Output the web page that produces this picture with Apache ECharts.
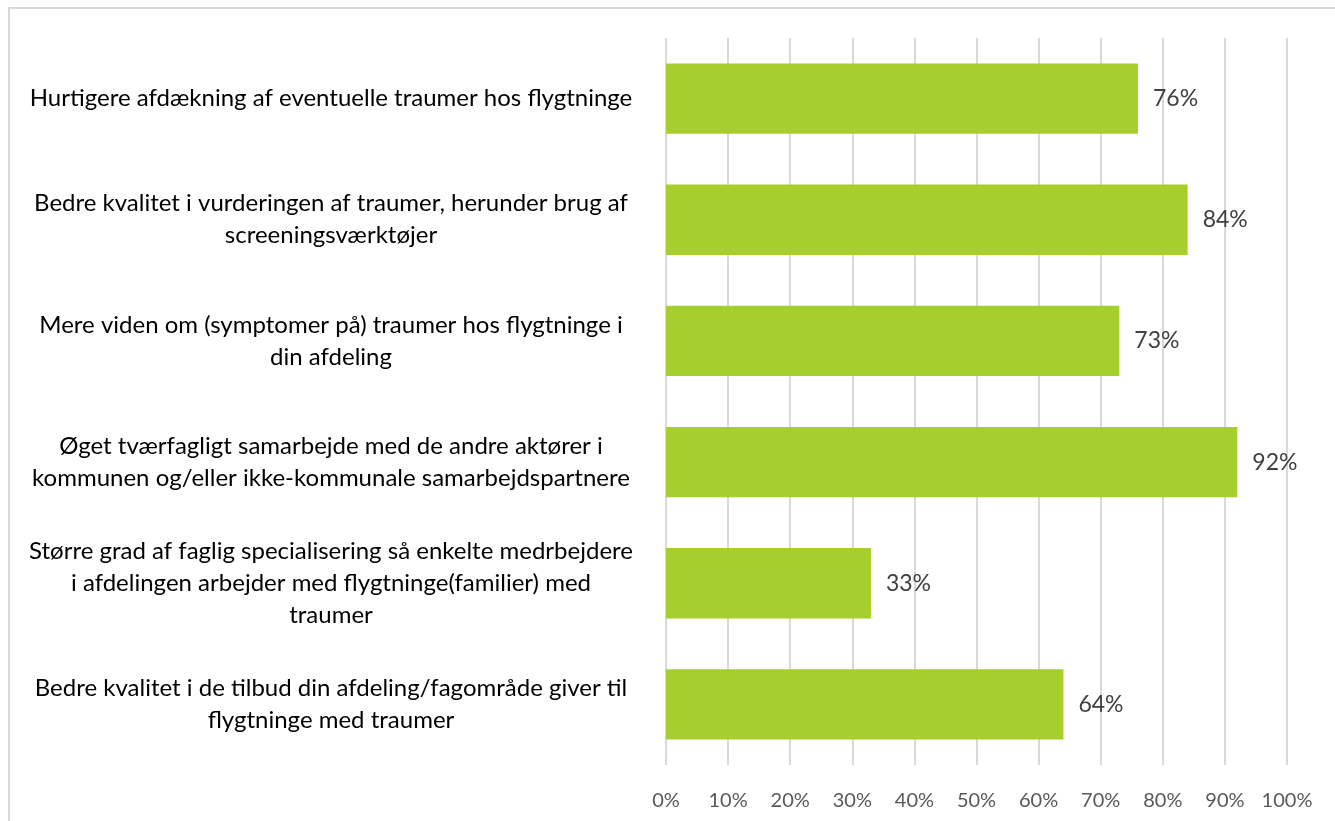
<!DOCTYPE html>
<html>
<head>
<meta charset="utf-8">
<style>
  html, body { margin: 0; padding: 0; background: #fff; }
  #chart { width: 1335px; height: 821px; }
</style>
<script src="https://cdn.jsdelivr.net/npm/echarts@6/dist/echarts.min.js"></script>
</head>
<body>
<div id="chart"></div>
<script>
// categories top to bottom
const categories = [
  'Hurtigere afdækning af eventuelle traumer hos flygtninge',
  'Bedre kvalitet i vurderingen af traumer, herunder brug af\nscreeningsværktøjer',
  'Mere viden om (symptomer på) traumer hos flygtninge i\ndin afdeling',
  'Øget tværfagligt samarbejde med de andre aktører i\nkommunen og/eller ikke-kommunale samarbejdspartnere',
  'Større grad af faglig specialisering så enkelte medrbejdere\ni afdelingen arbejder med flygtninge(familier) med\ntraumer',
  'Bedre kvalitet i de tilbud din afdeling/fagområde giver til\nflygtninge med traumer'
]
const values = [76, 84, 73, 92, 33, 64]

const chart = echarts.init(document.getElementById('chart'), null, { renderer: 'canvas' })

chart.setOption({
  backgroundColor: '#ffffff',
  animation: false,
  textStyle: { fontFamily: 'Lato, "Open Sans", sans-serif' },
  graphic: [{
    type: 'rect',
    shape: { x: 9, y: 8, width: 1340, height: 830 },
    style: { fill: 'none', stroke: '#d9d9d9', lineWidth: 2 },
    silent: true
  }],
  grid: { left: 666, right: 48, top: 38, bottom: 56 },
  xAxis: {
    type: 'value',
    min: 0, max: 100, interval: 10,
    axisLine: { show: false },
    axisTick: { show: false },
    splitLine: { lineStyle: { color: '#d9d9d9', width: 2 } },
    axisLabel: {
      color: '#595959',
      fontSize: 20,
      margin: 26,
      formatter: v => v + '%'
    }
  },
  yAxis: {
    type: 'category',
    inverse: true,
    data: categories,
    axisLine: { show: false },
    axisTick: { show: false },
    axisLabel: {
      margin: 20,
      formatter: v => v.split('\n').map(s => '{c|' + s + '}').join('\n'),
      rich: {
        c: {
          width: 630,
          align: 'center',
          color: '#000',
          fontSize: 24,
          lineHeight: 32,
          fontFamily: 'Lato, "Open Sans", sans-serif'
        }
      }
    }
  },
  series: [{
    type: 'bar',
    data: values,
    barWidth: '58%',
    itemStyle: { color: '#a6ce2d' },
    label: {
      show: true,
      position: 'right',
      distance: 15,
      color: '#404040',
      fontSize: 23,
      formatter: p => p.value + '%'
    }
  }]
})
</script>
</body>
</html>
